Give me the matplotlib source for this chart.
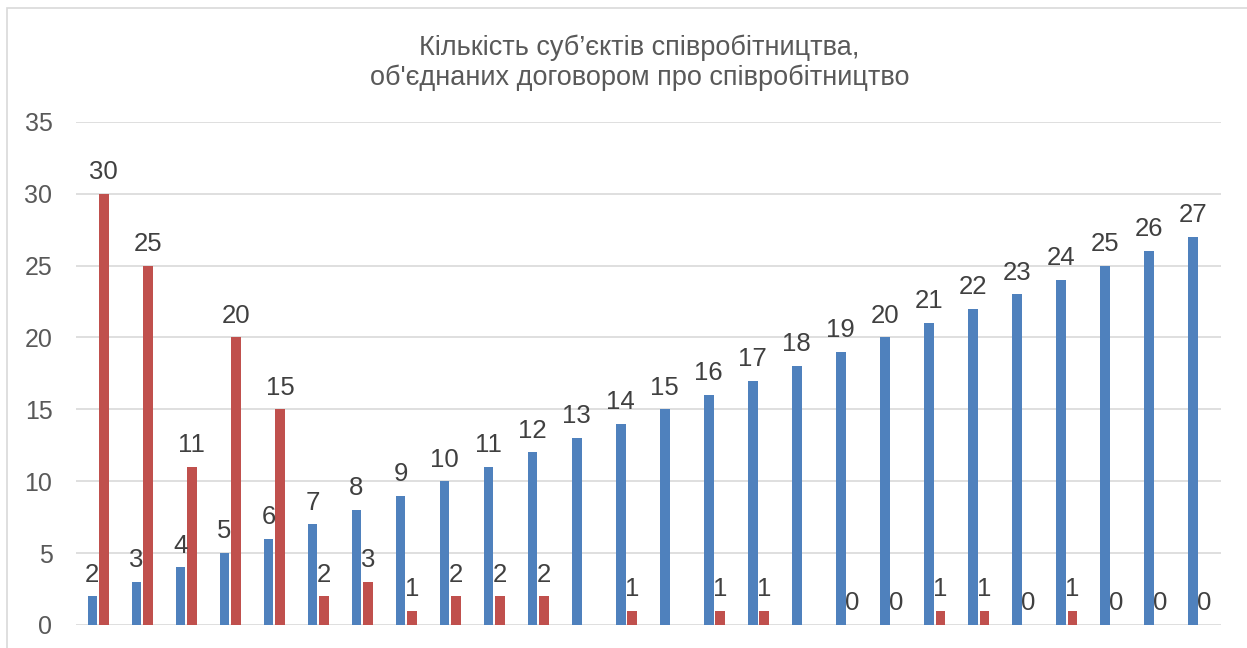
import numpy as np
import matplotlib.pyplot as plt
from matplotlib.patches import Rectangle

plt.rcParams['font.family'] = ['Liberation Sans', 'DejaVu Sans']

########## Data ##########
groups = list(range(1, 27))
blue_vals = [2, 3, 4, 5, 6, 7, 8, 9, 10, 11, 12, 13, 14, 15, 16, 17, 18,
             19, 20, 21, 22, 23, 24, 25, 26, 27]
red_vals = [30, 25, 11, 20, 15, 2, 3, 1, 2, 2, 2, None, 1, None, 1, 1, None,
            0, 0, 1, 1, 0, 1, 0, 0, 0]
title = 'Кількість суб’єктів співробітництва,\nоб\'єднаних договором про співробітництво'

blue = '#4F81BD'
red = '#C0504D'
txt = '#404040'

########## Figure ##########
fig = plt.figure(figsize=(12.47, 6.48), dpi=100)
ax = fig.add_axes([0.061, 0.0355, 0.918, 0.7765])

x = np.arange(len(groups))
w = 0.22
off = 0.13

red_arr = np.array([np.nan if v is None else v for v in red_vals], dtype=float)

ax.bar(x - off, blue_vals, w, color=blue, zorder=3)
ax.bar(x + off, red_arr, w, color=red, zorder=3)

lab_fs = 18.5
for xi, v in zip(x, blue_vals):
    ax.annotate(str(v), (xi - off, v), xytext=(0, 7), textcoords='offset points',
                ha='center', va='bottom', fontsize=lab_fs, color=txt, annotation_clip=False)
for xi, v in zip(x, red_vals):
    if v is None:
        continue
    ax.annotate(str(v), (xi + off, v), xytext=(0, 7), textcoords='offset points',
                ha='center', va='bottom', fontsize=lab_fs, color=txt, annotation_clip=False)

ax.set_xlim(-0.5, len(groups) - 0.5)
ax.set_ylim(0, 35)
ax.set_yticks(range(0, 36, 5))
ax.set_xticks([])
ax.tick_params(axis='y', length=0, pad=17, labelsize=18, labelcolor='#595959')
ax.yaxis.grid(True, color='#D9D9D9', lw=1.2, zorder=0)
ax.set_axisbelow(True)
for s in ax.spines.values():
    s.set_visible(False)

fig.text(0.513, 0.903, title, ha='center', va='center', fontsize=19.5, color='#595959',
         linespacing=1.2)

# chart area border
fig.patches.append(Rectangle((0.006, -0.01), 1.1, 0.998, transform=fig.transFigure,
                             fill=False, edgecolor='#D9D9D9', lw=1.2))

fig.savefig('out.png', dpi=100)
